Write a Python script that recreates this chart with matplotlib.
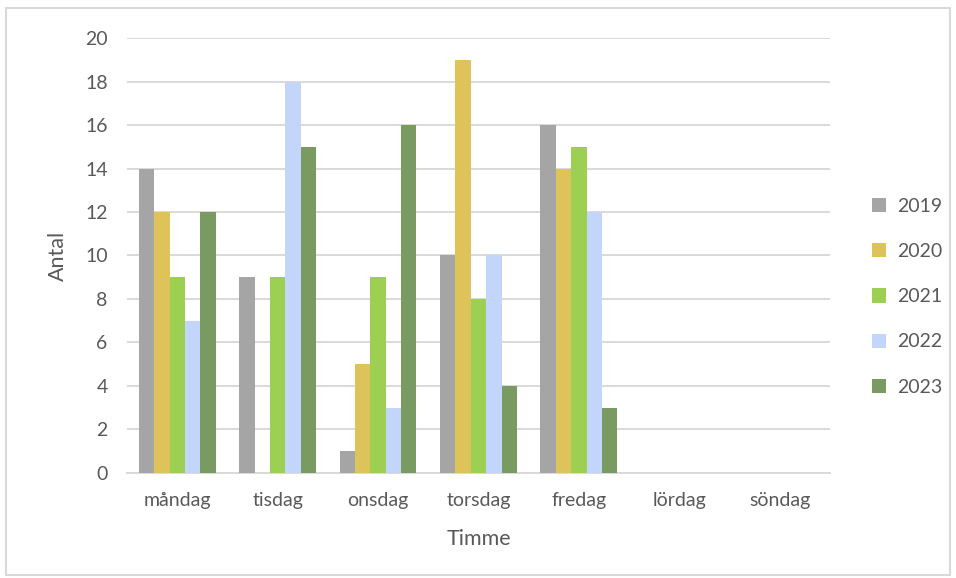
import numpy as np
import matplotlib.pyplot as plt
from matplotlib.patches import Rectangle

plt.rcParams['font.family'] = ['Lato', 'DejaVu Sans']

dagar = ["måndag", "tisdag", "onsdag", "torsdag", "fredag", "lördag", "söndag"]
ar = ["2019", "2020", "2021", "2022", "2023"]
v2019 = [14, 9, 1, 10, 16, 0, 0]
v2020 = [12, 0, 5, 19, 14, 0, 0]
v2021 = [9, 9, 9, 8, 15, 0, 0]
v2022 = [7, 18, 3, 10, 12, 0, 0]
v2023 = [12, 15, 16, 4, 3, 0, 0]
serier = [v2019, v2020, v2021, v2022, v2023]
farger = ["#A5A5A5", "#DEC35A", "#9DD052", "#C3D5FB", "#799B61"]

fig = plt.figure(figsize=(9.56, 5.78), dpi=100)
ax = fig.add_axes([0.133, 0.182, 0.735, 0.752])

x = np.arange(len(dagar))
bw = 0.153
for i, (vals, col) in enumerate(zip(serier, farger)):
    ax.bar(x + (i - 2) * bw, vals, width=bw, color=col, label=ar[i], zorder=3)

ax.set_xlim(-0.5, len(dagar) - 0.5)
ax.set_ylim(0, 20)
ax.set_yticks(range(0, 21, 2))
ax.set_xticks(x)
ax.set_xticklabels(dagar)
ax.grid(axis="y", color="#D9D9D9", linewidth=1.4, zorder=0)
for s in ["top", "right", "left"]:
    ax.spines[s].set_visible(False)
ax.spines["bottom"].set_color("#D9D9D9")
ax.spines["bottom"].set_linewidth(1.4)
ax.tick_params(axis="both", length=0, labelsize=14, colors="#595959")
ax.tick_params(axis="y", pad=14)
ax.tick_params(axis="x", pad=14)
ax.set_xlabel("Timme", fontsize=15.5, color="#595959", labelpad=14)
ax.set_ylabel("Antal", fontsize=15.5, color="#595959", labelpad=12)

leg = ax.legend(loc="center left", bbox_to_anchor=(1.035, 0.405), frameon=False,
                fontsize=14, labelcolor="#595959", handlelength=0.75, handleheight=0.75,
                handletextpad=0.55, labelspacing=1.45)

fig.patches.append(Rectangle((0.006, 0.005), 0.988, 0.982, transform=fig.transFigure,
                             fill=False, edgecolor="#D9D9D9", linewidth=1.5))

fig.savefig("out.png", dpi=100)
